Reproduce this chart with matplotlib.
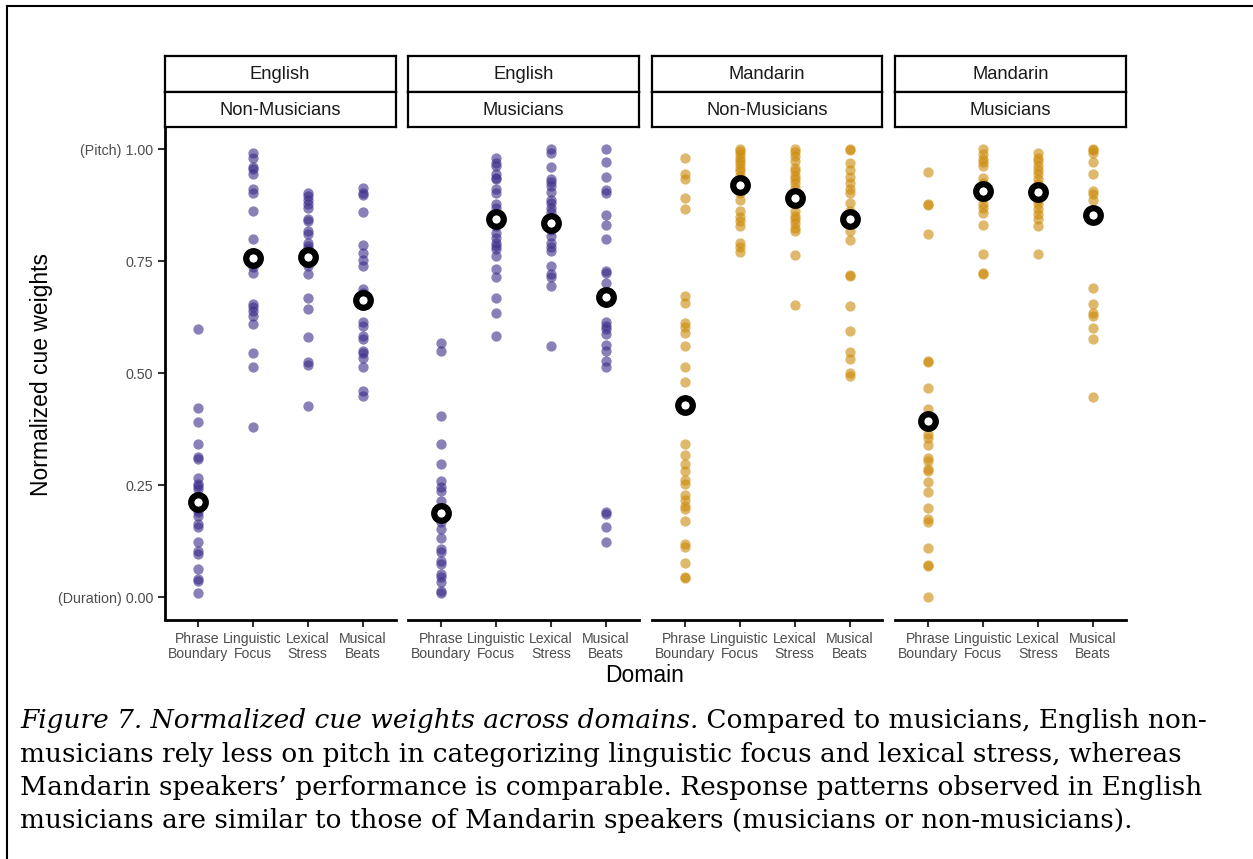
import matplotlib.pyplot as plt
import numpy as np
from matplotlib.lines import Line2D

# values
domains = ['Phrase\nBoundary', 'Linguistic\nFocus', 'Lexical\nStress', 'Musical\nBeats']
languages = ['English', 'English', 'Mandarin', 'Mandarin']
groups = ['Non-Musicians', 'Musicians', 'Non-Musicians', 'Musicians']

eng_nonmus = [
    [0.598, 0.423, 0.390, 0.343, 0.312, 0.308, 0.267, 0.252, 0.248, 0.241, 0.225, 0.210,
     0.200, 0.196, 0.189, 0.182, 0.163, 0.156, 0.122, 0.103, 0.096, 0.063, 0.040, 0.036, 0.010],
    [0.991, 0.981, 0.961, 0.957, 0.944, 0.911, 0.902, 0.862, 0.799, 0.769, 0.750, 0.744,
     0.738, 0.723, 0.654, 0.647, 0.639, 0.628, 0.609, 0.546, 0.513, 0.381],
    [0.903, 0.896, 0.888, 0.877, 0.870, 0.844, 0.840, 0.818, 0.810, 0.792, 0.784, 0.777,
     0.747, 0.740, 0.721, 0.669, 0.643, 0.581, 0.526, 0.519, 0.427],
    [0.914, 0.902, 0.898, 0.860, 0.786, 0.768, 0.753, 0.740, 0.688, 0.680, 0.615, 0.606,
     0.583, 0.576, 0.550, 0.545, 0.535, 0.514, 0.461, 0.449],
]
eng_mus = [
    [0.568, 0.550, 0.405, 0.342, 0.298, 0.260, 0.245, 0.237, 0.215, 0.200, 0.167, 0.152,
     0.133, 0.107, 0.100, 0.081, 0.074, 0.051, 0.044, 0.033, 0.014, 0.010],
    [0.981, 0.970, 0.963, 0.944, 0.937, 0.933, 0.911, 0.903, 0.877, 0.870, 0.829, 0.814,
     0.803, 0.792, 0.784, 0.777, 0.762, 0.732, 0.714, 0.669, 0.635, 0.583],
    [1.000, 0.993, 0.961, 0.934, 0.927, 0.918, 0.905, 0.888, 0.881, 0.870, 0.860, 0.821,
     0.806, 0.792, 0.781, 0.773, 0.740, 0.721, 0.714, 0.695, 0.561],
    [1.000, 0.972, 0.938, 0.909, 0.902, 0.853, 0.831, 0.799, 0.728, 0.723, 0.702, 0.615,
     0.606, 0.598, 0.587, 0.562, 0.550, 0.528, 0.513, 0.189, 0.186, 0.157, 0.122],
]
man_nonmus = [
    [0.980, 0.946, 0.933, 0.891, 0.866, 0.673, 0.656, 0.612, 0.604, 0.589, 0.560, 0.515,
     0.481, 0.342, 0.317, 0.298, 0.281, 0.262, 0.252, 0.228, 0.217, 0.204, 0.196, 0.169,
     0.118, 0.113, 0.076, 0.042, 0.045],
    [1.000, 0.996, 0.989, 0.981, 0.974, 0.967, 0.959, 0.952, 0.940, 0.933, 0.903, 0.888,
     0.862, 0.848, 0.840, 0.829, 0.792, 0.781, 0.771],
    [1.000, 0.994, 0.985, 0.974, 0.959, 0.952, 0.940, 0.933, 0.926, 0.914, 0.903, 0.877,
     0.862, 0.851, 0.844, 0.836, 0.825, 0.818, 0.763, 0.652],
    [1.000, 0.998, 0.970, 0.955, 0.938, 0.924, 0.911, 0.903, 0.881, 0.862, 0.818, 0.797,
     0.719, 0.717, 0.650, 0.594, 0.548, 0.531, 0.500, 0.494],
]
man_mus = [
    [0.950, 0.875, 0.877, 0.810, 0.526, 0.528, 0.468, 0.420, 0.364, 0.356, 0.339, 0.310,
     0.304, 0.287, 0.282, 0.258, 0.235, 0.199, 0.174, 0.167, 0.109, 0.070, 0.072, 0.001],
    [1.000, 0.989, 0.979, 0.972, 0.963, 0.937, 0.926, 0.892, 0.877, 0.868, 0.859, 0.830,
     0.767, 0.721, 0.724],
    [0.991, 0.981, 0.974, 0.964, 0.955, 0.944, 0.933, 0.922, 0.888, 0.877, 0.866, 0.855,
     0.844, 0.829, 0.767],
    [1.000, 0.998, 0.993, 0.972, 0.946, 0.908, 0.901, 0.888, 0.690, 0.655, 0.635, 0.628,
     0.602, 0.577, 0.446],
]
panel_values = [eng_nonmus, eng_mus, man_nonmus, man_mus]

mean_values = [
    [0.213, 0.757, 0.760, 0.664],
    [0.188, 0.845, 0.835, 0.670],
    [0.430, 0.920, 0.892, 0.844],
    [0.394, 0.907, 0.905, 0.853],
]

purple = '#3D2C8A'
gold = '#CC8A08'
panel_colors = [purple, purple, gold, gold]

W, H = 1253, 859
fig = plt.figure(figsize=(W / 100, H / 100), dpi=100)
plt.rcParams['font.family'] = 'Liberation Sans'

lefts = [164.5, 408, 651.5, 895]
pw = 231
ax_top, ax_bot = 127, 619.5
strip_h = 35.5

for i in range(4):
    l = lefts[i] / W
    ax = fig.add_axes([l, 1 - ax_bot / H, pw / W, (ax_bot - ax_top) / H])
    for k, vals in enumerate(panel_values[i]):
        ax.scatter(np.full(len(vals), k + 1), vals, s=55, color=panel_colors[i],
                   alpha=0.6, linewidths=0, zorder=2)
    ax.plot(np.arange(1, 5), mean_values[i], 'o', ls='none', ms=10.5, mfc='white',
            mec='black', mew=4.5, zorder=3)
    ax.set_xlim(0.4, 4.6)
    ax.set_ylim(-0.05, 1.05)
    ax.set_xticks(np.arange(1, 5))
    ax.set_xticklabels(domains, fontsize=10.1, color='#4D4D4D', linespacing=1.05)
    ax.spines['top'].set_visible(False)
    ax.spines['right'].set_visible(False)
    ax.spines['bottom'].set_linewidth(2)
    ax.tick_params(axis='x', length=5, width=1.5, color='#333333', pad=4)
    if i == 0:
        ax.spines['left'].set_linewidth(2)
        ax.set_yticks([0, 0.25, 0.5, 0.75, 1.0])
        ax.set_yticklabels(['(Duration) 0.00', '0.25', '0.50', '0.75', '(Pitch) 1.00'],
                           fontsize=10.3, color='#4D4D4D')
        ax.tick_params(axis='y', length=5, width=1.5, color='#333333', pad=3)
    else:
        ax.spines['left'].set_visible(False)
        ax.set_yticks([])

    # facet strips
    for j, lab in enumerate([languages[i], groups[i]]):
        sb = ax_top - strip_h * (2 - j)
        sax = fig.add_axes([l, 1 - (sb + strip_h) / H, pw / W, strip_h / H])
        sax.set_xticks([])
        sax.set_yticks([])
        for sp in sax.spines.values():
            sp.set_linewidth(1.6)
        sax.text(0.5, 0.47, lab, ha='center', va='center', fontsize=13.2,
                 color='#1A1A1A', transform=sax.transAxes)

fig.text(42 / W, 1 - 374 / H, 'Normalized cue weights', rotation=90, ha='center',
         va='center', fontsize=16.5)
fig.text(645 / W, 1 - 675 / H, 'Domain', ha='center', va='center', fontsize=16.5)

# outer frame of the figure
fig.add_artist(Line2D([7 / W, 7 / W], [0, 1 - 6 / H], color='black', lw=1.5,
                      transform=fig.transFigure))
fig.add_artist(Line2D([7 / W, 1], [1 - 6 / H, 1 - 6 / H], color='black', lw=1.5,
                      transform=fig.transFigure))

# caption
cap_font = 'DejaVu Serif'
cap_size = 19.0
lines = [
    ('Figure 7. Normalized cue weights across domains.', ' Compared to musicians, English non-'),
    ('', 'musicians rely less on pitch in categorizing linguistic focus and lexical stress, whereas'),
    ('', 'Mandarin speakers\u2019 performance is comparable. Response patterns observed in English'),
    ('', 'musicians are similar to those of Mandarin speakers (musicians or non-musicians).'),
]
baselines = [728, 762, 795, 828]
renderer = fig.canvas.get_renderer()
for (ital, rest), yb in zip(lines, baselines):
    x0 = 20
    if ital:
        t = fig.text(x0 / W, 1 - yb / H, ital, fontsize=cap_size, family=cap_font,
                     style='italic', va='baseline')
        x0 += t.get_window_extent(renderer).width
    fig.text(x0 / W, 1 - yb / H, rest, fontsize=cap_size, family=cap_font, va='baseline')

fig.savefig('out.png', dpi=100, facecolor='white')
